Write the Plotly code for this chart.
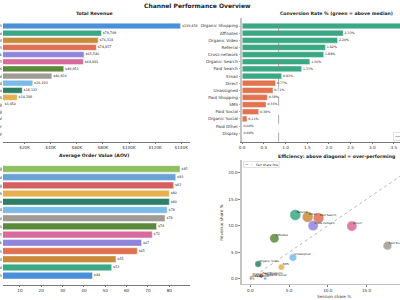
import numpy as np
import plotly.graph_objects as go

# ---------------- data ----------------
rev_channels = ["Organic Search", "Referral", "Email", "Paid Search", "Cross-network", "Direct",
                "Affiliates", "Paid Social", "Unassigned", "Organic Video", "SMS", "Paid Shopping",
                "Organic Shopping", "Organic Social", "Paid Other", "Display"]
rev_values = [139458, 78798, 76314, 74957, 65546, 64991, 49951, 40820, 26193, 18132, 14288, 3450,
              1509, 292, 0, 0]

cr_channels = ["Organic Shopping", "Affiliates", "Organic Video", "Referral", "Cross-network",
               "Organic Search", "Paid Search", "Email", "Direct", "Unassigned", "Paid Shopping",
               "SMS", "Paid Social", "Organic Social", "Paid Other", "Display"]
cr_values = [4.12, 2.33, 2.20, 1.92, 1.88, 1.56, 1.37, 0.91, 0.77, 0.71, 0.58, 0.55, 0.38, 0.11,
             0.00, 0.00]

aov_channels = ["Organic Shopping", "Organic Social", "Paid Shopping", "SMS", "Organic Video",
                "Unassigned", "Paid Social", "Affiliates", "Direct", "Cross-network", "Paid Search",
                "Email", "Referral", "Organic Search"]
aov_values = [85, 83, 82, 80, 80, 79, 78, 74, 72, 67, 65, 55, 53, 44]

# session share % (same order as rev_channels)
session_share = [21.2, 5.8, 7.4, 8.8, 8.1, 13.1, 3.1, 17.7, 5.5, 1.0, 4.0, 1.4, 0.1, 1.9, 0.4, 0.05]

rev_ticks = [20000, 40000, 60000, 80000, 100000, 120000, 140000]
rev_ticktext = ["$20K", "$40K", "$60K", "$80K", "$100K", "$120K", "$140K"]

# ---------------- styles ----------------
channel_colors = {
    "Organic Search": "#4a90d9", "Referral": "#3aa886", "Email": "#c98a3c",
    "Paid Search": "#e0704f", "Cross-network": "#9085dd", "Direct": "#d96a9c",
    "Affiliates": "#5a8a3a", "Paid Social": "#a09b95", "Unassigned": "#7cbbe8",
    "Organic Video": "#2d7f68", "SMS": "#e6b04e", "Paid Shopping": "#d65f5f",
    "Organic Shopping": "#8fbf5e", "Organic Social": "#6aa2d6", "Paid Other": "#e89a4a",
    "Display": "#9a7fd0",
}
GREEN, RED = "#3aa882", "#e2734f"
FONT = "DejaVu Sans"
TXT = "#222222"
W, H = 400, 300


def px(x):
    return x / W


def py(y):
    return 1 - y / H


fig = go.Figure()

# ---- Total revenue ----
fig.add_trace(go.Bar(
    x=rev_values, y=rev_channels, orientation="h",
    marker=dict(color=[channel_colors[c] for c in rev_channels], line=dict(color="white", width=0.4)),
    width=0.8, xaxis="x", yaxis="y"))
fig.add_trace(go.Scatter(
    x=rev_values, y=rev_channels, mode="markers+text",
    text=[f"${v:,.0f}" for v in rev_values], textposition="middle right",
    textfont=dict(size=3.3, color=TXT, family=FONT),
    marker=dict(size=0.6, opacity=0), cliponaxis=False, xaxis="x", yaxis="y", hoverinfo="skip"))

# ---- Conversion rate ----
median_cr = float(np.median(cr_values))
fig.add_trace(go.Bar(
    x=cr_values, y=cr_channels, orientation="h",
    marker=dict(color=[GREEN if v > median_cr else RED for v in cr_values],
                line=dict(color="white", width=0.4)),
    width=0.8, xaxis="x2", yaxis="y2"))
fig.add_trace(go.Scatter(
    x=cr_values, y=cr_channels, mode="markers+text",
    text=[f"{v:.2f}%" for v in cr_values], textposition="middle right",
    textfont=dict(size=3.2, color=TXT, family=FONT),
    marker=dict(size=0.6, opacity=0), cliponaxis=False, xaxis="x2", yaxis="y2", hoverinfo="skip"))

# ---- AOV ----
fig.add_trace(go.Bar(
    x=aov_values, y=aov_channels, orientation="h",
    marker=dict(color=[channel_colors[c] for c in aov_channels], line=dict(color="white", width=0.4)),
    width=0.8, xaxis="x3", yaxis="y3"))
fig.add_trace(go.Scatter(
    x=aov_values, y=aov_channels, mode="markers+text",
    text=[f"${v:.0f}" for v in aov_values], textposition="middle right",
    textfont=dict(size=3.3, color=TXT, family=FONT),
    marker=dict(size=0.6, opacity=0), cliponaxis=False, xaxis="x3", yaxis="y3", hoverinfo="skip"))

# ---- Efficiency scatter ----
rev_arr = np.array(rev_values, dtype=float)
rev_share = rev_arr / rev_arr.sum() * 100
diag_max = max(max(session_share), rev_share.max())
fig.add_trace(go.Scatter(
    x=[0, diag_max], y=[0, diag_max], mode="lines",
    line=dict(color="#9a9a9a", width=0.7, dash="dot"), xaxis="x4", yaxis="y4", hoverinfo="skip"))
sizes = 2.5 + 8.5 * np.sqrt(rev_arr / 80000)
fig.add_trace(go.Scatter(
    x=session_share, y=rev_share, mode="markers",
    marker=dict(size=sizes, color=[channel_colors[c] for c in rev_channels], opacity=0.85,
                line=dict(color="white", width=0.4)),
    xaxis="x4", yaxis="y4"))
fig.add_trace(go.Scatter(
    x=session_share, y=rev_share, mode="markers+text", text=rev_channels,
    textposition="top right", textfont=dict(size=2.8, color=TXT, family=FONT),
    marker=dict(size=0.6, opacity=0), cliponaxis=False, xaxis="x4", yaxis="y4", hoverinfo="skip"))

# ---------------- axes ----------------
axfont = dict(size=4.2, color="#333333", family=FONT)
common_x = dict(showgrid=False, zeroline=False, showline=True, linecolor="#777777", linewidth=0.7,
                ticks="outside", ticklen=1.8, tickwidth=0.6, tickcolor="#777777", tickfont=axfont)
common_y = dict(showgrid=False, zeroline=False, tickfont=axfont)

top_dom = [py(141.7), py(17.5)]
bot_dom = [py(284.6), py(160)]
right_dom = [px(241), 1]

fig.update_layout(
    width=W, height=H, margin=dict(l=0, r=0, t=0, b=0),
    paper_bgcolor="white", plot_bgcolor="white", showlegend=False,
    font=dict(family=FONT, color=TXT),
    xaxis=dict(domain=[0, px(188)], anchor="y", range=[3420, 146400],
               tickvals=rev_ticks, ticktext=rev_ticktext, **common_x),
    yaxis=dict(domain=top_dom, anchor="x", type="category", categoryarray=rev_channels,
               categoryorder="array", range=[16.19, -1.19], showline=False, ticks="",
               automargin=False, **common_y),
    xaxis2=dict(domain=right_dom, anchor="y2", range=[0, 3.64],
                tickvals=[0, 0.5, 1, 1.5, 2, 2.5, 3, 3.5], tickformat=".1f", ticksuffix="%",
                **common_x),
    yaxis2=dict(domain=top_dom, anchor="x2", type="category", categoryarray=cr_channels,
                categoryorder="array", range=[16.19, -1.19], showline=True, linecolor="#c4c4c4",
                linewidth=1.8, ticks="outside", ticklen=1.5, tickcolor="#bbbbbb", tickwidth=0.5,
                automargin=False, **common_y),
    xaxis3=dict(domain=[0, px(188)], anchor="y3", range=[2.09, 89.5],
                tickvals=[10, 20, 30, 40, 50, 60, 70, 80], tickprefix="$", **common_x),
    yaxis3=dict(domain=bot_dom, anchor="x3", type="category", categoryarray=aov_channels,
                categoryorder="array", range=[14.09, -1.09], showline=False, ticks="",
                automargin=False, **common_y),
    xaxis4=dict(domain=right_dom, anchor="y4", range=[-1.06, 19.32],
                tickvals=[0, 5, 10, 15], tickformat=".1f", ticksuffix="%", **common_x),
    yaxis4=dict(domain=[py(284), py(160)], anchor="x4", range=[-1.0, 22.4],
                tickvals=[0, 5, 10, 15, 20], tickformat=".1f", ticksuffix="%",
                showline=True, linecolor="#c4c4c4", linewidth=1.8, ticks="outside", ticklen=1.8,
                tickcolor="#888888", tickwidth=0.6, automargin=False, **common_y),
)
fig.update_xaxes(linecolor="#c4c4c4", linewidth=1.0, selector=dict(anchor="y4"))

# ---------------- shapes ----------------
shapes = [
    dict(type="line", xref="x2", yref="y2 domain", x0=median_cr, x1=median_cr, y0=0, y1=1,
         line=dict(color="#888888", width=0.7, dash="dash")),
    # median legend box (bottom-right, mostly cropped)
    dict(type="rect", xref="paper", yref="paper", x0=px(393.5), x1=px(430), y0=py(140.5),
         y1=py(132.5), fillcolor="white", line=dict(color="#cccccc", width=0.6)),
    dict(type="line", xref="paper", yref="paper", x0=px(395.3), x1=px(402), y0=py(136.5),
         y1=py(136.5), line=dict(color="#888888", width=0.6, dash="dash")),
    # fair share legend box
    dict(type="rect", xref="paper", yref="paper", x0=px(242.3), x1=px(278.3), y0=py(167.5),
         y1=py(161.5), fillcolor="white", line=dict(color="#cccccc", width=0.6)),
    dict(type="line", xref="paper", yref="paper", x0=px(244.2), x1=px(251.2), y0=py(164.5),
         y1=py(164.5), line=dict(color="#9a9a9a", width=0.7, dash="dot")),
]
fig.update_layout(shapes=shapes)

# ---------------- titles / annotations ----------------
def ann(text, x, y, size, bold=False, xanchor="center", angle=0, color=TXT):
    return dict(text=f"<b>{text}</b>" if bold else text, x=px(x), y=py(y), xref="paper",
                yref="paper", showarrow=False, xanchor=xanchor, yanchor="middle",
                textangle=angle, font=dict(size=size, family=FONT, color=color))


annotations = [
    ann("Channel Performance Overview", 195.5, 5.5, 6.0, bold=True),
    ann("Total Revenue", 92, 13.7, 4.6, bold=True),
    ann("Conversion Rate % (green = above median)", 336, 13.8, 4.6, bold=True),
    ann("Average Order Value (AOV)", 92, 155.7, 4.6, bold=True),
    ann("Efficiency: above diagonal = over-performing", 336, 156, 4.6, bold=True),
    ann("Revenue share %", 219.5, 222, 4.2, angle=-90, color="#333333"),
    ann("Session share %", 334, 296, 4.2, color="#333333"),
    ann("Fair share line", 253, 164.5, 3.2, xanchor="left"),
    ann(f"Median ({median_cr:.2f}%)", 403.5, 136.5, 3.2, xanchor="left"),
]
fig.update_layout(annotations=annotations)

fig.write_html("out.html")
